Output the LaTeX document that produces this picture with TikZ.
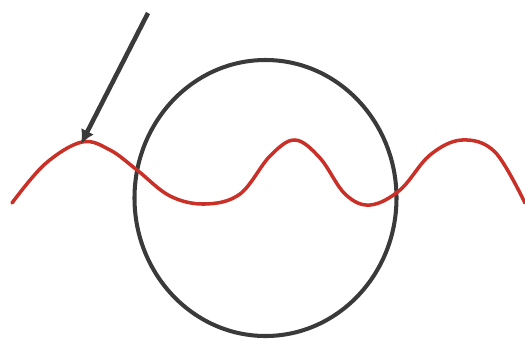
\documentclass[tikz,border=0pt]{standalone}
\usepackage{xcolor}
\usepackage{tikz}
\usetikzlibrary{arrows.meta,shapes.geometric}
\definecolor{wavered}{HTML}{C93027}
\definecolor{inkgray}{HTML}{3A3A3A}

\begin{document}
\begin{tikzpicture}[
  x=0.02cm, y=-0.02cm,
  ring/.style={draw=inkgray, line width=2.3pt},
  wave/.style={draw=wavered, line width=2pt, line cap=round},
  pointer/.style={-{Latex[length=8pt, width=8pt]}, draw=inkgray, line width=2.6pt}
]
  \useasboundingbox (0,0) rectangle (525,339);

  \node[ellipse, ring, minimum width=262*0.02cm, minimum height=276*0.02cm, inner sep=0pt] (ring) at (265.5,198) {};

  \draw[wave] plot[smooth, tension=0.6] coordinates {
    (12,203) (45,164) (82,142) (110,150) (137,170) (170,196) (205,204)
    (240,194) (270,156) (295,140) (320,158) (345,194) (370,205)
    (400,190) (430,155) (462,140) (495,152) (525,203)};

  \coordinate (tail) at (148,13);
  \coordinate (crest) at (81,144);
  \draw[pointer] (tail) -- (crest);
\end{tikzpicture}
\end{document}
